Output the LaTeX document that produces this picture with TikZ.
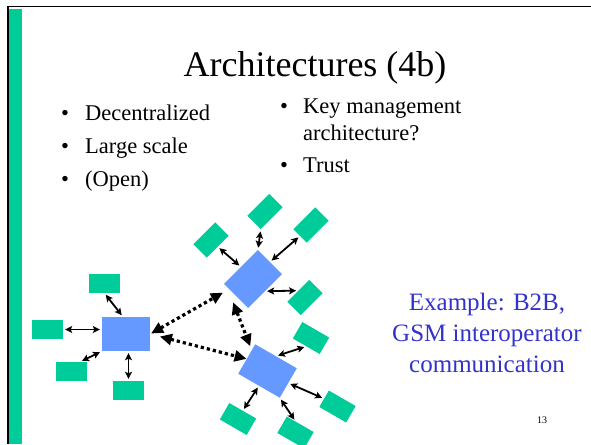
\documentclass[tikz,border=0pt]{standalone}
\usepackage{fontspec}
\setmainfont{Liberation Serif}
\usepackage{tikz}
\usetikzlibrary{arrows.meta}
\definecolor{bargreen}{RGB}{0,204,153}
\definecolor{hubblue}{RGB}{102,153,255}
\definecolor{textblue}{RGB}{51,51,204}
\tikzset{
  hub/.style={fill=hubblue,minimum width=48pt,minimum height=34pt,inner sep=0pt},
  leaf/.style={fill=bargreen,minimum width=31pt,minimum height=19pt,inner sep=0pt},
  link/.style={{Stealth[length=7pt,width=7pt,inset=1.5pt]}-{Stealth[length=7pt,width=7pt,inset=1.5pt]},line width=1.8pt,shorten <=2pt,shorten >=2pt},
  peer/.style={{Triangle[length=12pt,width=11pt]}-{Triangle[length=12pt,width=11pt]},line width=3.2pt,dash pattern=on 3.2pt off 3pt},
  bulletmark/.style={anchor=base,font=\fontsize{22.5}{27}\selectfont,inner sep=0pt},
  bullettext/.style={anchor=base west,font=\fontsize{22.5}{27}\selectfont,inner sep=0pt}
}

\begin{document}
\begin{tikzpicture}
\useasboundingbox (0pt,0pt) rectangle (591pt,-444pt);
\fill[bargreen] (9pt,-9pt) rectangle (21.5pt,-444pt);
\draw[line width=1.8pt] (8pt,-444pt) -- (8pt,-6.5pt) -- (591pt,-6.5pt);

\node[anchor=base,font=\fontsize{36}{40}\selectfont,inner sep=0pt] (title) at (315pt,-77pt) {Architectures (4b)};

\node[bulletmark] (m1) at (65pt,-120pt) {•};
\node[bullettext] (t1) at (85pt,-120pt) {Decentralized};
\node[bulletmark] (m2) at (65pt,-153pt) {•};
\node[bullettext] (t2) at (85pt,-153pt) {Large scale};
\node[bulletmark] (m3) at (65pt,-186pt) {•};
\node[bullettext] (t3) at (85pt,-186pt) {(Open)};
\node[bulletmark] (m4) at (284pt,-113pt) {•};
\node[bullettext] (t4) at (303pt,-113pt) {Key management};
\node[bullettext] (t5) at (303pt,-140pt) {architecture?};
\node[bulletmark] (m6) at (284pt,-172pt) {•};
\node[bullettext] (t6) at (303pt,-172pt) {Trust};

\node[hub] (hubA) at (126pt,-334pt) {};
\node[leaf] (a1) at (104.5pt,-283.5pt) {};
\node[leaf] (a2) at (47.5pt,-329.5pt) {};
\node[leaf] (a3) at (71.5pt,-371.5pt) {};
\node[leaf] (a4) at (128.5pt,-390.5pt) {};

\node[hub,rotate=45] (hubB) at (253pt,-279pt) {};
\node[leaf,rotate=45] (b1) at (211pt,-240pt) {};
\node[leaf,rotate=45] (b2) at (265pt,-211.5pt) {};
\node[leaf,rotate=45] (b3) at (311pt,-225pt) {};
\node[leaf,rotate=45] (b4) at (305pt,-297.5pt) {};

\node[hub,rotate=-30] (hubC) at (267.5pt,-371pt) {};
\node[leaf,rotate=-30] (c1) at (311pt,-338pt) {};
\node[leaf,rotate=-30] (c2) at (337.5pt,-406.5pt) {};
\node[leaf,rotate=-30] (c3) at (295.5pt,-432.5pt) {};
\node[leaf,rotate=-30] (c4) at (238pt,-419pt) {};

\draw[link] (a1.south) -- (hubA.100);
\draw[link] (a2.east) -- (a2.east -| hubA.west);
\draw[link] (a3.48) -- (hubA.south west);
\draw[link] (a4.north |- hubA.south) -- (a4.north);

\draw[link] (b1.south) -- (hubB.north);
\draw[link] (b2.south west) -- (hubB.north east);
\draw[link] (b3.west) -- (hubB.east);
\draw[link] (hubB.south) -- (b4.north);

\draw[link] (hubC.north) -- (c1.south);
\draw[link] (hubC.east) -- (c2.west);
\draw[link] (hubC.south east) -- (c3.120);
\draw[link] (hubC.south) -- (c4.north);

\draw[peer,shorten <=1pt,shorten >=7pt] (hubA.east) -- (hubB.158);
\draw[peer,shorten <=10pt] (hubA.east) -- (hubC.west);
\draw[peer,shorten >=4pt] ([xshift=-9pt]hubB.200) -- (hubC.157);

\node[font=\fontsize{25}{31}\selectfont,text=textblue,align=center,inner sep=0pt] (note) at (487pt,-333pt) {Example: B2B,\\GSM interoperator\\communication};
\node[anchor=base,font=\fontsize{10}{12}\selectfont,inner sep=0pt] (pagenum) at (542pt,-423pt) {13};
\end{tikzpicture}
\end{document}
